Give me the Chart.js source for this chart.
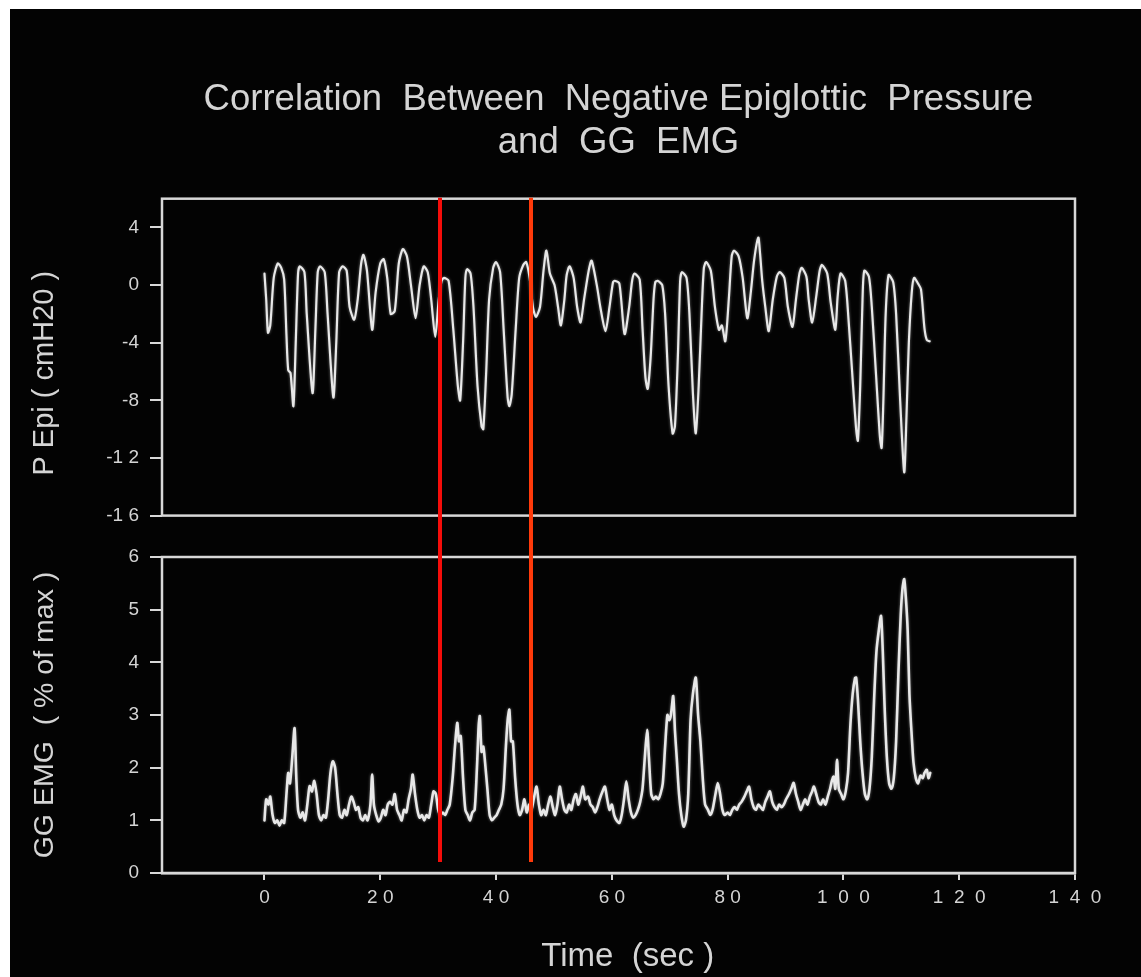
<!DOCTYPE html>
<html>
<head>
<meta charset="utf-8">
<title>Correlation Between Negative Epiglottic Pressure and GG EMG</title>
<script src="https://cdn.jsdelivr.net/npm/chart.js@4.4.1/dist/chart.umd.min.js"></script>
<style>
  html, body { margin: 0; padding: 0; background: #ffffff; }
  body { width: 1141px; height: 977px; position: relative; overflow: hidden; }
  #stage { position: absolute; left: 10px; top: 9px; right: 0; bottom: 0; background: #030303; }
  canvas { position: absolute; left: 0; }
  #top { top: 0; }
  #bottom { top: 530px; }
</style>
</head>
<body>
<div id="stage"></div>
<canvas id="top" width="1141" height="538"></canvas>
<canvas id="bottom" width="1141" height="447"></canvas>
<script>
// ---- Epiglottic pressure trace (time in s, pressure in cmH2O) ----
const pEpiTime = [
  0.0, 0.3, 0.6, 1.0, 1.6, 2.3, 2.9, 3.4, 3.8, 4.1, 4.5, 5.0, 5.4, 5.8, 6.1, 6.9, 7.3, 8.3, 8.8, 9.2,
  9.6, 10.4, 10.9, 11.9, 12.4, 12.9, 13.5, 14.2, 14.7, 15.5, 16.1, 16.7, 17.1, 17.7, 18.6, 19.2, 20.0, 20.6, 21.2, 21.8,
  22.5, 23.2, 23.9, 24.6, 25.3, 26.1, 26.8, 27.5, 28.2, 28.8, 29.5, 30.1, 30.6, 31.0, 31.8, 32.6, 33.4, 33.8, 34.3, 34.7,
  35.0, 35.6, 36.1, 36.8, 37.5, 37.8, 38.3, 38.8, 39.5, 40.0, 40.7, 41.3, 42.0, 42.3, 42.7, 43.4, 44.0, 44.7, 45.2, 45.8,
  46.4, 46.9, 47.6, 48.2, 48.7, 49.3, 50.1, 50.7, 51.2, 51.8, 52.2, 52.7, 53.4, 54.0, 54.6, 55.2, 56.0, 56.5, 57.4, 58.0,
  58.9, 59.6, 60.2, 60.5, 61.3, 62.2, 63.0, 63.5, 63.9, 64.8, 65.3, 65.8, 66.2, 66.7, 67.2, 67.5, 67.9, 68.7, 69.2, 69.8,
  70.5, 70.9, 71.4, 71.8, 72.1, 72.9, 73.4, 74.0, 74.5, 75.0, 75.5, 75.9, 76.3, 77.1, 77.8, 78.5, 79.0, 79.6, 80.2, 80.7,
  81.1, 81.9, 82.6, 83.4, 84.0, 84.6, 85.3, 85.6, 86.0, 86.5, 87.1, 87.8, 88.5, 89.0, 89.8, 90.4, 91.2, 91.8, 92.4, 92.8,
  93.6, 94.0, 94.6, 95.3, 95.9, 96.3, 97.2, 97.8, 98.6, 99.0, 99.5, 100.3, 100.9, 101.5, 102.2, 102.5, 102.9, 103.3, 103.6, 104.4,
  104.9, 105.6, 106.3, 106.6, 106.9, 107.3, 107.8, 108.6, 109.1, 109.8, 110.5, 110.9, 111.3, 111.8, 112.2, 112.9, 113.4, 114.0, 114.4, 114.9
];
const pEpiValues = [
  0.8, -1.0, -3.3, -2.8, 0.5, 1.5, 1.2, 0.4, -3.5, -5.9, -6.1, -8.4, -4.0, 0.8, 1.3, 0.9, -2.0, -7.5, -3.0, 0.9,
  1.3, 0.9, -2.0, -7.8, -4.0, 0.9, 1.3, 1.0, -1.5, -2.4, -1.0, 1.5, 2.1, 1.0, -3.1, -0.5, 1.5, 1.8, 0.5, -2.0,
  -1.8, 1.5, 2.5, 2.0, 0.0, -2.3, 0.0, 1.3, 0.9, -1.0, -3.6, -1.0, 0.3, 0.5, 0.3, -3.0, -7.0, -8.0, -4.0, 0.5,
  1.1, 0.8, -1.5, -7.0, -9.8, -10.0, -6.0, -1.0, 1.2, 1.6, 0.9, -3.0, -7.8, -8.4, -7.6, -3.0, 0.5, 1.4, 1.6, 0.5,
  -1.6, -2.2, -1.5, 1.0, 2.4, 0.8, 0.0, -1.5, -2.8, -1.0, 0.7, 1.3, 0.5, -1.5, -2.6, -1.0, 1.0, 1.7, 0.0, -1.5,
  -3.2, -1.5, 0.2, 0.3, 0.1, -3.4, -1.5, 0.3, 0.8, 0.4, -3.0, -6.4, -7.2, -5.0, -1.0, 0.2, 0.3, 0.0, -2.0, -7.0,
  -10.3, -9.8, -5.0, 0.3, 0.9, 0.5, -2.0, -7.5, -10.3, -7.0, -2.0, 1.2, 1.6, 1.0, -1.5, -3.1, -2.8, -3.9, -1.0, 2.0,
  2.4, 2.0, 0.5, -2.3, -0.5, 1.8, 3.3, 2.2, 0.2, -1.5, -3.2, -1.0, 0.6, 0.9, 0.5, -1.5, -2.9, -1.0, 0.8, 1.2,
  0.6, -1.0, -2.6, -0.8, 1.0, 1.4, 0.8, -1.2, -3.1, -0.8, 0.8, 0.3, -2.5, -6.0, -10.0, -10.8, -7.0, -1.0, 1.0, 0.6,
  -1.5, -6.0, -10.5, -11.3, -8.0, -2.0, 0.7, 0.2, -2.0, -8.0, -13.0, -9.0, -4.0, -0.5, 0.5, 0.1, -0.3, -3.0, -3.8, -3.9
];

// ---- Genioglossus EMG trace (time in s, % of max) ----
const emgTime = [
  0.0, 0.3, 0.7, 1.0, 1.4, 1.8, 2.2, 2.6, 3.0, 3.4, 3.8, 4.1, 4.4, 4.8, 5.2, 5.5, 5.8, 6.2, 6.6, 7.0,
  7.4, 7.8, 8.2, 8.6, 9.0, 9.4, 9.8, 10.2, 10.6, 11.0, 11.4, 11.8, 12.2, 12.6, 13.0, 13.4, 13.8, 14.2, 14.6, 15.0,
  15.4, 15.8, 16.2, 16.6, 17.0, 17.4, 17.8, 18.3, 18.6, 18.9, 19.3, 19.7, 20.1, 20.5, 20.9, 21.3, 21.7, 22.1, 22.5, 22.9,
  23.3, 23.7, 24.1, 24.5, 24.9, 25.3, 25.6, 26.0, 26.4, 26.8, 27.2, 27.6, 28.0, 28.4, 28.8, 29.2, 29.6, 30.0, 30.4, 30.8,
  31.2, 31.6, 32.0, 32.5, 32.9, 33.3, 33.6, 33.9, 34.3, 34.7, 35.1, 35.5, 35.9, 36.3, 36.7, 37.0, 37.2, 37.5, 37.8, 38.1,
  38.5, 38.9, 39.3, 39.7, 40.1, 40.5, 40.9, 41.3, 41.7, 42.0, 42.3, 42.6, 42.9, 43.3, 43.7, 44.1, 44.5, 44.9, 45.3, 45.7,
  46.1, 46.5, 47.0, 47.4, 47.8, 48.2, 48.6, 49.0, 49.4, 49.8, 50.2, 50.6, 51.0, 51.4, 51.8, 52.2, 52.6, 53.0, 53.4, 53.8,
  54.2, 54.6, 55.0, 55.4, 55.9, 56.3, 56.7, 57.1, 57.5, 57.9, 58.4, 58.8, 59.2, 59.6, 60.0, 60.4, 60.8, 61.3, 61.7, 62.1,
  62.5, 62.9, 63.3, 63.7, 64.1, 64.5, 64.9, 65.3, 65.7, 66.1, 66.4, 66.8, 67.2, 67.6, 68.0, 68.4, 68.8, 69.2, 69.6, 69.9,
  70.2, 70.6, 70.9, 71.2, 71.6, 72.0, 72.4, 72.8, 73.2, 73.6, 74.0, 74.5, 74.9, 75.3, 75.7, 76.1, 76.6, 77.0, 77.4, 77.9,
  78.3, 78.7, 79.1, 79.5, 80.0, 80.4, 80.8, 81.2, 81.6, 82.0, 82.4, 82.9, 83.3, 83.7, 84.1, 84.5, 84.9, 85.3, 85.7, 86.1,
  86.5, 86.9, 87.3, 87.7, 88.1, 88.5, 88.9, 89.3, 89.7, 90.1, 90.6, 91.0, 91.4, 91.8, 92.2, 92.6, 93.0, 93.4, 93.8, 94.2,
  94.6, 94.9, 95.3, 95.7, 96.1, 96.5, 96.9, 97.3, 97.7, 98.0, 98.3, 98.6, 98.9, 99.2, 99.6, 100.0, 100.4, 100.8, 101.2, 101.6,
  102.0, 102.2, 102.5, 102.9, 103.3, 103.7, 104.1, 104.5, 104.9, 105.3, 105.7, 106.1, 106.5, 106.8, 107.1, 107.5, 107.9, 108.3, 108.7, 109.1,
  109.5, 109.9, 110.2, 110.5, 110.8, 111.1, 111.4, 111.8, 112.1, 112.5, 112.9, 113.3, 113.7, 114.0, 114.4, 114.7, 115.0
];
const emgValues = [
  1.0, 1.4, 1.3, 1.45, 1.1, 0.95, 1.0, 0.9, 1.0, 0.95, 1.5, 1.9, 1.7, 2.2, 2.75, 1.8, 1.2, 1.05, 1.15, 1.0,
  1.3, 1.65, 1.55, 1.75, 1.5, 1.1, 1.0, 1.1, 1.05, 1.4, 1.9, 2.12, 2.0, 1.5, 1.1, 1.05, 1.2, 1.1, 1.3, 1.45,
  1.35, 1.2, 1.25, 1.05, 1.0, 1.1, 1.0, 1.3, 1.87, 1.3, 1.1, 0.98, 1.05, 1.2, 1.1, 1.3, 1.35, 1.3, 1.5, 1.2,
  1.1, 1.0, 1.2, 1.15, 1.4, 1.6, 1.87, 1.5, 1.2, 1.05, 1.1, 1.0, 1.1, 1.05, 1.3, 1.55, 1.5, 1.2, 1.1, 1.15,
  1.1, 1.2, 1.3, 1.8, 2.4, 2.85, 2.5, 2.6, 1.8, 1.2, 1.1, 1.0, 1.15, 1.2, 2.0, 2.8, 2.98, 2.3, 2.4, 2.1,
  1.6, 1.1, 1.0, 1.05, 1.1, 1.2, 1.3, 1.6, 2.4, 2.9, 3.1, 2.5, 2.5, 1.8, 1.3, 1.1, 1.2, 1.4, 1.15, 1.3,
  1.2, 1.4, 1.64, 1.3, 1.1, 1.2, 1.1, 1.3, 1.45, 1.25, 1.1, 1.3, 1.64, 1.4, 1.2, 1.15, 1.3, 1.2, 1.4, 1.5,
  1.3, 1.45, 1.64, 1.4, 1.45, 1.3, 1.25, 1.15, 1.25, 1.4, 1.55, 1.64, 1.4, 1.2, 1.3, 1.1, 1.0, 0.95, 1.1, 1.4,
  1.74, 1.4, 1.15, 1.05, 1.1, 1.2, 1.35, 1.6, 2.2, 2.72, 2.2, 1.5, 1.4, 1.45, 1.4, 1.5, 1.7, 2.4, 3.0, 2.9,
  3.0, 3.36, 2.7, 2.2, 1.5, 1.1, 0.88, 1.0, 1.5, 2.9, 3.4, 3.71, 3.0, 2.5, 1.8, 1.3, 1.2, 1.1, 1.2, 1.5,
  1.71, 1.5, 1.2, 1.1, 1.15, 1.1, 1.2, 1.25, 1.2, 1.3, 1.35, 1.45, 1.55, 1.64, 1.4, 1.25, 1.2, 1.3, 1.25, 1.2,
  1.35, 1.45, 1.55, 1.35, 1.25, 1.2, 1.3, 1.25, 1.3, 1.4, 1.5, 1.6, 1.71, 1.5, 1.35, 1.2, 1.3, 1.4, 1.3, 1.45,
  1.55, 1.64, 1.5, 1.35, 1.3, 1.4, 1.3, 1.45, 1.6, 1.75, 1.83, 1.6, 2.15, 1.6, 1.5, 1.4, 1.55, 1.9, 2.8, 3.4,
  3.7, 3.71, 3.3, 2.5, 1.9, 1.5, 1.4, 1.6, 2.2, 3.3, 4.2, 4.6, 4.88, 4.2, 3.2, 2.2, 1.7, 1.6, 1.8, 2.5,
  3.8, 4.9, 5.4, 5.58, 5.2, 4.6, 3.4, 2.6, 2.1, 1.8, 1.7, 1.85, 1.8, 1.9, 1.96, 1.8, 1.9
];

// ---- Axis ticks, titles and event markers ----
const timeTicks = [0, 20, 40, 60, 80, 100, 120, 140];
const pEpiTicks = [-16, -12, -8, -4, 0, 4];
const emgTicks = [0, 1, 2, 3, 4, 5, 6];
const markerTimes = [30.3, 46.0];
const titleLines = ['Correlation  Between  Negative Epiglottic  Pressure', 'and  GG  EMG'];

const TIME_MIN = -17.7, TIME_MAX = 140;
const FONT = '"Liberation Sans", Arial, Helvetica, sans-serif';
const INK = '#d4d4d4';
const FRAME = '#d8d8d8';
const TRACE = '#e8e8e8';
const MARKER_COLORS = ['#f50d0a', '#ff3a0a'];
const PANEL_SPLIT = 530;   // page y where the lower canvas begins

Chart.defaults.font.family = FONT;
Chart.defaults.color = INK;

// digits printed with gaps between them, e.g. "2 0", "1  2  0", "-1 6"
function spacedY(v) {
  const s = String(Math.abs(v)).split('').join(' ');
  return v < 0 ? '-' + s : s;
}
function spacedX(v) {
  const d = String(v).split('');
  return d.join(d.length > 2 ? '  ' : ' ');
}

function toPoints(xs, ys) {
  return xs.map((x, i) => ({ x: x, y: ys[i] }));
}

// box around the plotting area
const panelFrame = {
  id: 'panelFrame',
  afterDraw(chart) {
    const { ctx, chartArea: a } = chart;
    ctx.save();
    ctx.strokeStyle = FRAME;
    ctx.lineWidth = 2.5;
    ctx.strokeRect(a.left, a.top, a.right - a.left, a.bottom - a.top);
    ctx.restore();
  }
};

// slight glow on the traces
const traceGlow = {
  id: 'traceGlow',
  beforeDatasetsDraw(chart) {
    const ctx = chart.ctx;
    ctx.save();
    ctx.shadowColor = 'rgba(255,255,255,0.45)';
    ctx.shadowBlur = 3;
  },
  afterDatasetsDraw(chart) {
    chart.ctx.restore();
  }
};

// vertical event markers crossing both panels
function markerPlugin(isUpper) {
  return {
    id: 'eventMarkers',
    afterDraw(chart) {
      const { ctx, chartArea: a, scales } = chart;
      const y0 = isUpper ? a.top - 1 : 0;
      const y1 = isUpper ? PANEL_SPLIT : a.bottom - 11;
      ctx.save();
      ctx.lineWidth = 4;
      markerTimes.forEach((t, i) => {
        const x = Math.round(scales.x.getPixelForValue(t));
        ctx.strokeStyle = MARKER_COLORS[i % MARKER_COLORS.length];
        ctx.beginPath();
        ctx.moveTo(x, y0);
        ctx.lineTo(x, y1);
        ctx.stroke();
      });
      ctx.restore();
    }
  };
}

function valueAxis(min, max, ticks, title, titleSize) {
  return {
    type: 'linear',
    min: min,
    max: max,
    afterFit(scale) { scale.width = 162; },
    afterBuildTicks(scale) { scale.ticks = ticks.map(v => ({ value: v })); },
    grid: { drawOnChartArea: false, drawTicks: true, tickLength: 12, color: FRAME, lineWidth: 2 },
    border: { display: false },
    ticks: { color: INK, font: { size: 19 }, padding: 11, callback: spacedY },
    title: {
      display: true, text: title, color: INK,
      font: { size: titleSize, lineHeight: 1.2 }, padding: { top: 28, bottom: 0 }
    }
  };
}

const lineStyle = {
  borderColor: TRACE,
  pointRadius: 0,
  tension: 0.25,
  borderJoinStyle: 'round',
  borderCapStyle: 'round',
  fill: false
};

// upper panel: epiglottic pressure
new Chart(document.getElementById('top'), {
  type: 'line',
  data: { datasets: [Object.assign({ label: 'P Epi', data: toPoints(pEpiTime, pEpiValues), borderWidth: 2.2 }, lineStyle)] },
  options: {
    responsive: false,
    animation: false,
    events: [],
    layout: { padding: { top: 10, right: 66, bottom: 8, left: 0 } },
    plugins: {
      legend: { display: false },
      tooltip: { enabled: false },
      title: {
        display: true,
        text: titleLines,
        color: INK,
        fullSize: false,
        font: { size: 36.5, weight: 'normal', lineHeight: 1.16 },
        padding: { top: 69, bottom: 35 }
      }
    },
    scales: {
      x: { type: 'linear', min: TIME_MIN, max: TIME_MAX, display: false },
      y: valueAxis(-16, 6, pEpiTicks, 'P Epi ( cmH20 )    ', 29)
    }
  },
  plugins: [traceGlow, panelFrame, markerPlugin(true)]
});

// lower panel: GG EMG with the shared time axis
new Chart(document.getElementById('bottom'), {
  type: 'line',
  data: { datasets: [Object.assign({ label: 'GG EMG', data: toPoints(emgTime, emgValues), borderWidth: 2.6 }, lineStyle)] },
  options: {
    responsive: false,
    animation: false,
    events: [],
    layout: { padding: { top: 27, right: 66, bottom: 0, left: 0 } },
    plugins: {
      legend: { display: false },
      tooltip: { enabled: false },
      title: { display: false }
    },
    scales: {
      x: {
        type: 'linear',
        position: 'bottom',
        min: TIME_MIN,
        max: TIME_MAX,
        afterFit(scale) { scale.height = 104; },
        afterBuildTicks(scale) { scale.ticks = timeTicks.map(v => ({ value: v })); },
        grid: { drawOnChartArea: false, drawTicks: true, tickLength: 7, color: FRAME, lineWidth: 2 },
        border: { display: true, color: FRAME, width: 2.5 },
        ticks: { color: INK, font: { size: 19 }, padding: 6, maxRotation: 0, autoSkip: false, callback: spacedX },
        title: {
          display: true, text: '  Time  (sec )', color: INK,
          font: { size: 33, lineHeight: 1.2 }, padding: { top: 0, bottom: 0 }
        }
      },
      y: valueAxis(0, 6, emgTicks, 'GG EMG  ( % of max )', 28.5)
    }
  },
  plugins: [traceGlow, panelFrame, markerPlugin(false)]
});
</script>
</body>
</html>
